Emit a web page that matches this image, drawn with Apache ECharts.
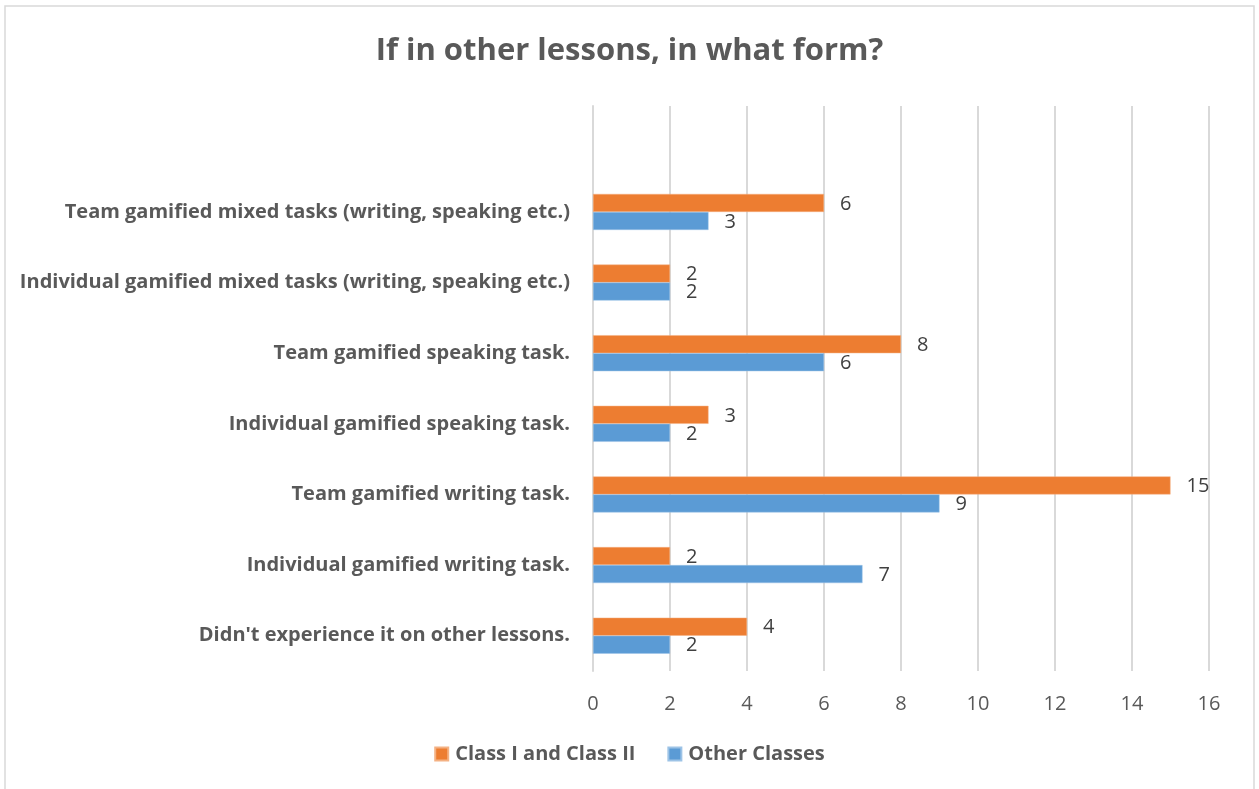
<!DOCTYPE html>
<html>
<head>
<meta charset="utf-8">
<script src="https://cdn.jsdelivr.net/npm/echarts@6/dist/echarts.min.js"></script>
<style>
  html, body { margin: 0; padding: 0; background: #ffffff; }
  #chart { width: 1259px; height: 789px; }
</style>
</head>
<body>
<div id="chart"></div>
<script>
// Categories listed bottom to top; the trailing blank slot leaves headroom above the bars
const categories = [
  "Didn't experience it on other lessons.",
  'Individual gamified writing task.',
  'Team gamified writing task.',
  'Individual gamified speaking task.',
  'Team gamified speaking task.',
  'Individual gamified mixed tasks (writing, speaking etc.)',
  'Team gamified mixed tasks (writing, speaking etc.)',
  ''
];
const classOneTwo = [4, 2, 15, 3, 8, 2, 6, '-'];
const otherClasses = [2, 7, 9, 2, 6, 2, 3, '-'];
const xTicks = [0, 2, 4, 6, 8, 10, 12, 14, 16];

const FONT = '"Open Sans"';
const chart = echarts.init(document.getElementById('chart'), null, { renderer: 'canvas' });

const labelStyle = {
  show: true,
  position: 'right',
  distance: 16,
  color: '#404040',
  fontFamily: FONT,
  fontSize: 20,
  offset: [0, 1]
};

chart.setOption({
  backgroundColor: '#ffffff',
  animation: false,
  graphic: [{
    type: 'rect',
    shape: { x: 5, y: 6, width: 1249, height: 820 },
    style: { fill: 'none', stroke: '#d9d9d9', lineWidth: 1.5 },
    silent: true,
    z: -1
  }],
  title: {
    text: 'If in other lessons, in what form?',
    left: 'center',
    top: 31,
    textStyle: { fontFamily: FONT, fontWeight: 'bold', fontSize: 31, color: '#595959' }
  },
  legend: {
    data: ['Class I and Class II', 'Other Classes'],
    bottom: 20,
    left: 'center',
    icon: 'rect',
    itemWidth: 13,
    itemHeight: 13,
    itemGap: 32,
    textStyle: {
      fontFamily: FONT, fontWeight: 'bold', fontSize: 20, color: '#595959',
      padding: [0, 0, 0, 2]
    }
  },
  grid: { left: 593, right: 50, top: 106, bottom: 118, containLabel: false },
  xAxis: {
    type: 'value',
    min: xTicks[0],
    max: xTicks[xTicks.length - 1],
    interval: xTicks[1] - xTicks[0],
    axisLine: { show: false },
    axisTick: { show: false },
    axisLabel: { color: '#595959', fontFamily: FONT, fontSize: 20, margin: 23 },
    splitLine: { show: true, lineStyle: { color: '#d9d9d9', width: 2 } }
  },
  yAxis: {
    type: 'category',
    data: categories,
    axisLine: { show: true, lineStyle: { color: '#d9d9d9', width: 2 } },
    axisTick: { show: false },
    axisLabel: {
      color: '#595959', fontFamily: FONT, fontWeight: 'bold', fontSize: 20, margin: 23
    }
  },
  series: [
    {
      name: 'Class I and Class II',
      type: 'bar',
      data: classOneTwo,
      barWidth: 18,
      barGap: '0%',
      itemStyle: { color: '#ed7d31', borderColor: '#f4b183', borderWidth: 0.5 },
      label: labelStyle
    },
    {
      name: 'Other Classes',
      type: 'bar',
      data: otherClasses,
      barWidth: 18,
      barGap: '0%',
      itemStyle: { color: '#5b9bd5', borderColor: '#9dc3e6', borderWidth: 0.5 },
      label: labelStyle
    }
  ]
});
</script>
</body>
</html>
